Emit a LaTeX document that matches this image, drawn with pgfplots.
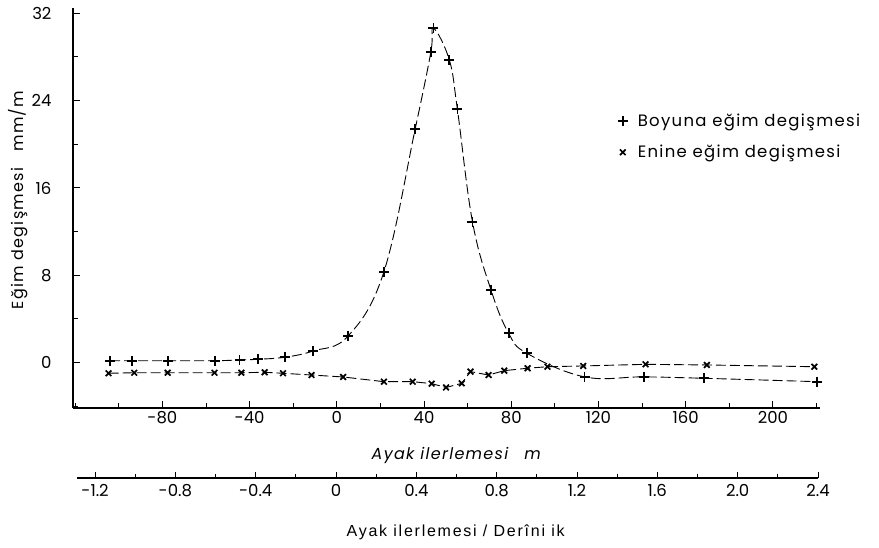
\documentclass[border=0pt]{standalone}
\usepackage{pgfplots}
\pgfplotsset{compat=1.18}
\usepackage{fontspec}
\setmainfont{Poppins}
\newfontfamily\arialfont{Liberation Sans}[LetterSpace=11]
\newfontfamily\widefont{Poppins}[LetterSpace=8]
\begin{document}
\begin{tikzpicture}[x=1pt,y=1pt]
\path (0,0) rectangle (879,548);
\begin{axis}[
  at={(73pt,140pt)}, anchor=south west,
  scale only axis, width=747pt, height=400pt,
  xmin=-121, xmax=221.6, ymin=-4.15, ymax=32.48,
  axis lines=left, axis line style={-, line width=1.1pt},
  xtick={-80,-40,0,40,80,120,160,200}, minor xtick={-120,-100,-60,-20,20,60,100,140,180,220},
  ytick={0,8,16,24,32}, minor ytick={-4,4,12,20,28},
  tick style={line width=1pt, black}, major tick length=7pt, minor tick length=5pt,
  tick align=inside,
  /pgf/number format/assume math mode=true,
  ticklabel style={font=\fontsize{16.5}{19}\selectfont},
  yticklabel style={xshift=-18pt},
  xlabel={\widefont\itshape Ayak ilerlemesi\quad m},
  xlabel style={at={(axis description cs:0.513,-0.1175)}, anchor=center, font=\fontsize{16}{19}\selectfont},
  ylabel={\widefont Eğim degişmesi\quad mm/m},
  ylabel style={at={(axis description cs:-0.0736,0.52)}, anchor=center, font=\fontsize{16}{19}\selectfont},
  legend style={draw=none, fill=none, at={(axis description cs:0.725,0.745)}, anchor=north west,
    font=\fontsize{16.5}{19}\selectfont, row sep=13pt, /tikz/every odd column/.append style={column sep=8pt}},
  legend cell align=left,
  legend image code/.code={\draw[#1, only marks] plot coordinates {(0.25cm,0cm)};},
]
\addplot[black, line width=0.9pt, dash pattern=on 10pt off 4pt, smooth, tension=0.65,
  mark=+, mark size=5pt, mark options={solid, line width=1.8pt}] coordinates {
(-104,0.18) (-94,0.18) (-77.6,0.18) (-56,0.18) (-44.6,0.25) (-36.2,0.31) (-23.9,0.5)
(-10.9,1.07) (5.2,2.45) (21.6,8.33) (35.9,21.37) (43.1,28.42) (44.3,30.62) (51.6,27.72)
(55.3,23.2) (62.2,12.91) (70.7,6.66) (78.8,2.69) (87.2,0.86) (113.6,-1.3) (140.8,-1.3)
(168.4,-1.43) (220.2,-1.74)
};
\addlegendentry{\widefont Boyuna eğim degişmesi}
\addplot[black, line width=0.9pt, dash pattern=on 10pt off 4pt,
  mark=x, mark size=4pt, mark options={solid, line width=1.7pt}] coordinates {
(-104.7,-0.97) (-92.9,-0.92) (-77.6,-0.92) (-56.1,-0.92) (-43.8,-0.92) (-33.1,-0.88)
(-24.7,-0.97) (-11.6,-1.13) (2.9,-1.31) (21.6,-1.74) (34.8,-1.74) (43.5,-1.92) (50.1,-2.27)
(57.3,-1.89) (61.3,-0.82) (69.6,-1.13) (76.8,-0.73) (87.5,-0.51) (96.6,-0.37) (113.0,-0.30)
(141.6,-0.15) (169.7,-0.21) (219.0,-0.37)
};
\addlegendentry{\widefont Enine eğim degişmesi}
\end{axis}
\begin{axis}[
  at={(77pt,70pt)}, anchor=south west,
  scale only axis, width=741pt, height=20pt,
  xmin=-1.29, xmax=2.40, ymin=0, ymax=1,
  axis x line=bottom, axis y line=none, axis line style={-, line width=1.1pt},
  xtick={-1.2,-0.8,-0.4,0,0.4,0.8,1.2,1.6,2.0,2.4},
  xticklabels={-1.2,-0.8,-0.4,0,0.4,0.8,1.2,1.6,2.0,2.4},
  minor xtick={-1.0,-0.6,-0.2,0.2,0.6,1.0,1.4,1.8,2.2},
  tick style={line width=1pt, black}, major tick length=6pt, minor tick length=4pt,
  tick align=inside,
  ticklabel style={font=\fontsize{16.5}{19}\selectfont},
  xticklabel style={yshift=-3pt},
  xlabel={\arialfont Ayak ilerlemesi / Derîni ik},
  xlabel style={at={(axis description cs:0.511,-2.7)}, anchor=center, font=\fontsize{16}{19}\selectfont},
]
\end{axis}
\end{tikzpicture}
\end{document}
